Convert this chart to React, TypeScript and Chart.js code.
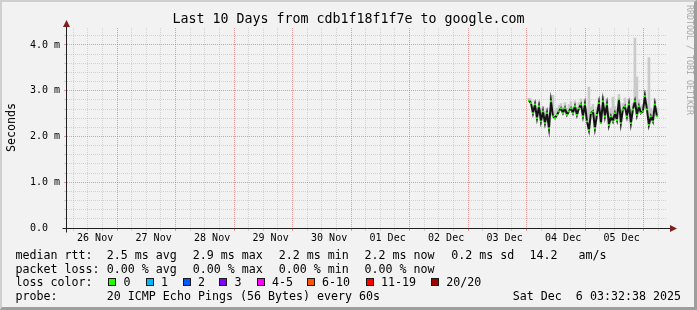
import React, { useEffect, useRef } from "react";
import { Chart, registerables } from "chart.js";

Chart.register(...registerables);

// ---------------- data ----------------
const TITLE = "Last 10 Days from cdb1f18f1f7e to google.com";
const Y_LABEL = "Seconds";
const WATERMARK = "RRDTOOL / TOBI OETIKER";

// day labels (centred on noon of each day), hours counted from 26 Nov 00:00
const dayLabels = ["26 Nov", "27 Nov", "28 Nov", "29 Nov", "30 Nov", "01 Dec", "02 Dec", "03 Dec", "04 Dec", "05 Dec"];
const yTickValues = [0, 1, 2, 3, 4];
const yTickLabels = ["0.0  ", "1.0 m", "2.0 m", "3.0 m", "4.0 m"];

// time window (hours after 26 Nov 00:00): 26 Nov 03:32:38 -> 6 Dec 03:32:38
const RANGE_START_H = 3.544;
const RANGE_END_H = 243.544;
const Y_MAX = 4.37;

// samples start late on 03 Dec
const FIRST_SAMPLE_H = 190;
const SAMPLE_STEP_H = 0.82;

// median round trip time, in milliseconds ("m" seconds)
const medianRtt = [
  2.79, 2.73, 2.51, 2.70, 2.40, 2.66, 2.33, 2.55, 2.29, 2.51,
  2.18, 2.77, 2.44, 2.40, 2.47, 2.55, 2.62, 2.51, 2.62, 2.47,
  2.55, 2.62, 2.51, 2.66, 2.47, 2.62, 2.70, 2.44, 2.70, 2.33,
  2.14, 2.51, 2.55, 2.18, 2.47, 2.73, 2.29, 2.77, 2.44, 2.70,
  2.25, 2.44, 2.33, 2.51, 2.36, 2.81, 2.29, 2.59, 2.66, 2.44,
  2.70, 2.29, 2.59, 2.77, 2.47, 2.66, 2.51, 2.55, 2.88, 2.59,
  2.25, 2.44, 2.33, 2.70, 2.44,
];

// top of the smoke (slowest ping) per sample, milliseconds
const smokeTop = [
  2.84, 2.82, 2.66, 2.78, 2.62, 2.74, 2.60, 2.66, 2.55, 2.62,
  2.50, 2.90, 2.90, 2.56, 2.62, 2.68, 2.72, 2.64, 2.74, 2.62,
  2.70, 2.76, 2.64, 2.78, 2.64, 2.74, 2.82, 2.66, 2.80, 2.60,
  3.08, 2.64, 2.70, 2.52, 2.64, 2.84, 2.56, 2.88, 2.62, 2.82,
  2.54, 2.62, 2.86, 2.66, 2.60, 2.92, 2.56, 2.72, 2.84, 2.62,
  2.82, 2.58, 2.72, 4.15, 3.30, 2.80, 2.66, 2.70, 2.98, 2.72,
  3.72, 2.62, 2.58, 2.82, 2.62,
];

const lossLabels = ["0", "1", "2", "3", "4-5", "6-10", "11-19", "20/20"];
const lossColors = ["#26ff00", "#00b8ff", "#0059ff", "#7e00ff", "#ff00ff", "#ff5500", "#ff0000", "#a00000"];

const statsRtt = ["2.5 ms avg", "2.9 ms max", "2.2 ms min", "2.2 ms now", "0.2 ms sd", "14.2   am/s"];
const statsLoss = ["0.00 % avg", "0.00 % max", "0.00 % min", "0.00 % now"];
const probeText = "20 ICMP Echo Pings (56 Bytes) every 60s";
const stampText = "Sat Dec  6 03:32:38 2025";

// ---------------- styling ----------------
const MONO = '"DejaVu Sans Mono", monospace';
const MAJOR_GRID = "rgba(222,79,79,0.55)";
const MINOR_GRID = "rgba(143,143,143,0.32)";

const isDayBoundary = (c: any) => !!c && !!c.tick && Math.round(c.tick.value) % 24 === 0;
const isWholeUnit = (c: any) => !!c && !!c.tick && Math.abs(c.tick.value - Math.round(c.tick.value)) < 1e-6;

const axisPlugin = {
  id: "rrdAxes",
  afterDatasetsDraw(chart: any) {
    const { ctx, scales } = chart;
    const xs = scales.x;
    const ys = scales.y;
    const x0 = Math.round(xs.left) - 0.5;
    const y0 = Math.round(ys.getPixelForValue(0)) + 0.5;
    const xEnd = Math.round(xs.right) + 5;
    const yEnd = Math.round(ys.top) - 3;
    ctx.save();
    ctx.strokeStyle = "#1f1f1f";
    ctx.lineWidth = 1;
    ctx.beginPath();
    ctx.moveTo(x0 - 4, y0);
    ctx.lineTo(xEnd, y0);
    ctx.moveTo(x0, y0 + 4);
    ctx.lineTo(x0, yEnd);
    ctx.stroke();
    ctx.fillStyle = "#801f1f";
    ctx.beginPath();
    ctx.moveTo(xEnd - 2, y0 - 3.5);
    ctx.lineTo(xEnd + 5, y0);
    ctx.lineTo(xEnd - 2, y0 + 3.5);
    ctx.closePath();
    ctx.fill();
    ctx.beginPath();
    ctx.moveTo(x0 - 3.5, yEnd + 2);
    ctx.lineTo(x0, yEnd - 5);
    ctx.lineTo(x0 + 3.5, yEnd + 2);
    ctx.closePath();
    ctx.fill();
    ctx.restore();
  },
};

export default function App() {
  const canvasRef = useRef<HTMLCanvasElement>(null);

  useEffect(() => {
    document.body.style.margin = "0";
    const canvas = canvasRef.current;
    if (!canvas) return;

    const sampleTimes = medianRtt.map((_, i) => FIRST_SAMPLE_H + i * SAMPLE_STEP_H);
    const xTickHours: number[] = [];
    for (let h = 6; h < RANGE_END_H; h += 6) if (h > RANGE_START_H) xTickHours.push(h);
    const yTicks: number[] = [];
    for (let i = 0; i * 0.2 < Y_MAX; i++) yTicks.push(Math.round(i * 2) / 10);

    const chart = new Chart(canvas, {
      type: "line",
      data: {
        datasets: [
          {
            type: "line",
            label: "median",
            data: sampleTimes.map((t, i) => ({ x: t, y: medianRtt[i] })),
            borderColor: "#141414",
            borderWidth: 2,
            pointStyle: "rect",
            pointRadius: 1.3,
            pointBorderWidth: 0,
            pointBackgroundColor: lossColors[0],
            tension: 0,
            order: 1,
          } as any,
          {
            type: "bar",
            label: "smoke",
            data: sampleTimes.map((t, i) => ({ x: t, y: [medianRtt[i], smokeTop[i]] })),
            backgroundColor: "#cacaca",
            borderWidth: 0,
            barPercentage: 1,
            categoryPercentage: 1,
            grouped: false,
            order: 2,
          } as any,
        ],
      },
      options: {
        responsive: false,
        animation: false,
        devicePixelRatio: 1,
        layout: { padding: { top: 28, right: 30, left: 0, bottom: 0 } },
        plugins: { legend: { display: false }, tooltip: { enabled: false }, title: { display: false } },
        scales: {
          x: {
            type: "linear",
            min: RANGE_START_H,
            max: RANGE_END_H,
            afterBuildTicks: (s: any) => {
              s.ticks = xTickHours.map((v) => ({ value: v }));
            },
            afterFit: (s: any) => {
              s.height = 82;
            },
            ticks: {
              autoSkip: false,
              maxRotation: 0,
              minRotation: 0,
              padding: 1,
              color: "#000",
              font: { family: MONO, size: 10 },
              callback: (v: any) => {
                const h = Number(v);
                if (Math.round(h) % 24 === 12) return dayLabels[Math.round((h - 12) / 24)] ?? "";
                return "";
              },
            },
            grid: {
              color: (c: any) => (isDayBoundary(c) ? MAJOR_GRID : MINOR_GRID),
              tickColor: (c: any) => (isDayBoundary(c) ? MAJOR_GRID : MINOR_GRID),
              lineWidth: 1,
              drawTicks: true,
              tickLength: 3,
            },
            border: { display: false, dash: [1, 1] },
          } as any,
          y: {
            type: "linear",
            min: 0,
            max: Y_MAX,
            afterBuildTicks: (s: any) => {
              s.ticks = yTicks.map((v) => ({ value: v }));
            },
            afterFit: (s: any) => {
              s.width = 67;
            },
            ticks: {
              autoSkip: false,
              padding: 4,
              color: "#000",
              font: { family: MONO, size: 10 },
              callback: (v: any) => {
                const n = Number(v);
                if (Math.abs(n - Math.round(n)) > 1e-6) return "";
                const idx = yTickValues.indexOf(Math.round(n));
                return idx >= 0 ? yTickLabels[idx] : "";
              },
            },
            grid: {
              color: (c: any) => (isWholeUnit(c) ? MAJOR_GRID : MINOR_GRID),
              tickColor: (c: any) => (isWholeUnit(c) ? MAJOR_GRID : MINOR_GRID),
              lineWidth: 1,
              drawTicks: true,
              tickLength: 3,
            },
            border: { display: false, dash: [1, 1] },
          } as any,
        },
      },
      plugins: [axisPlugin],
    });
    return () => chart.destroy();
  }, []);

  const legendFont: React.CSSProperties = {
    position: "absolute",
    fontFamily: MONO,
    fontSize: "11.65px",
    lineHeight: "14px",
    whiteSpace: "pre",
    color: "#000",
  };
  const rowTops = [248, 261.5, 275, 288.5];
  const statX = [107.3, 193.3, 279.3, 365, 451.7, 530];
  const swatchX = [108.3, 145.7, 182.7, 219.3, 256.7, 306.7, 365.7, 431];

  return (
    <div style={{ position: "relative", width: 697, height: 310, background: "#f2f2f2", overflow: "hidden" }}>
      <canvas ref={canvasRef} width={697} height={310} style={{ position: "absolute", left: 0, top: 0, width: 697, height: 310 }} />

      <div
        style={{
          position: "absolute",
          left: 0,
          top: 11.4,
          width: 697,
          textAlign: "center",
          fontFamily: MONO,
          fontSize: "13.3px",
          lineHeight: "16px",
          whiteSpace: "pre",
          color: "#000",
        }}
      >
        {TITLE}
      </div>

      <div
        style={{
          ...legendFont,
          left: 4,
          top: 152,
          transformOrigin: "left top",
          transform: "rotate(-90deg)",
        }}
      >
        {Y_LABEL}
      </div>

      <div
        style={{
          position: "absolute",
          left: 695,
          top: 5,
          transformOrigin: "left top",
          transform: "rotate(90deg)",
          fontFamily: MONO,
          fontSize: "8.3px",
          lineHeight: "10px",
          whiteSpace: "pre",
          color: "#a9a9a9",
        }}
      >
        {WATERMARK}
      </div>

      <div style={{ ...legendFont, left: 15.5, top: rowTops[0] }}>median rtt:</div>
      {statsRtt.map((s, i) => (
        <div key={"r" + i} style={{ ...legendFont, left: statX[i] - 0.5, top: rowTops[0] }}>
          {s}
        </div>
      ))}

      <div style={{ ...legendFont, left: 15.5, top: rowTops[1] }}>packet loss:</div>
      {statsLoss.map((s, i) => (
        <div key={"l" + i} style={{ ...legendFont, left: statX[i] - 0.5, top: rowTops[1] }}>
          {s}
        </div>
      ))}

      <div style={{ ...legendFont, left: 15.5, top: rowTops[2] }}>loss color:</div>
      {lossLabels.map((s, i) => (
        <React.Fragment key={"c" + i}>
          <div
            style={{
              position: "absolute",
              left: swatchX[i],
              top: 278,
              width: 8,
              height: 8,
              boxSizing: "border-box",
              border: "1px solid #1a1a1a",
              background: lossColors[i],
            }}
          />
          <div style={{ ...legendFont, left: swatchX[i] + 15.2, top: rowTops[2] }}>{s}</div>
        </React.Fragment>
      ))}

      <div style={{ ...legendFont, left: 15.5, top: rowTops[3] }}>probe:</div>
      <div style={{ ...legendFont, left: statX[0] - 0.5, top: rowTops[3] }}>{probeText}</div>
      <div style={{ ...legendFont, left: 512.8, top: rowTops[3] }}>{stampText}</div>

      <div
        style={{
          position: "absolute",
          left: 0,
          top: 0,
          width: 697,
          height: 310,
          boxSizing: "border-box",
          borderTop: "2px solid #cfcfcf",
          borderLeft: "2px solid #cfcfcf",
          borderRight: "3px solid #9e9e9e",
          borderBottom: "3px solid #9e9e9e",
          pointerEvents: "none",
        }}
      />
    </div>
  );
}
